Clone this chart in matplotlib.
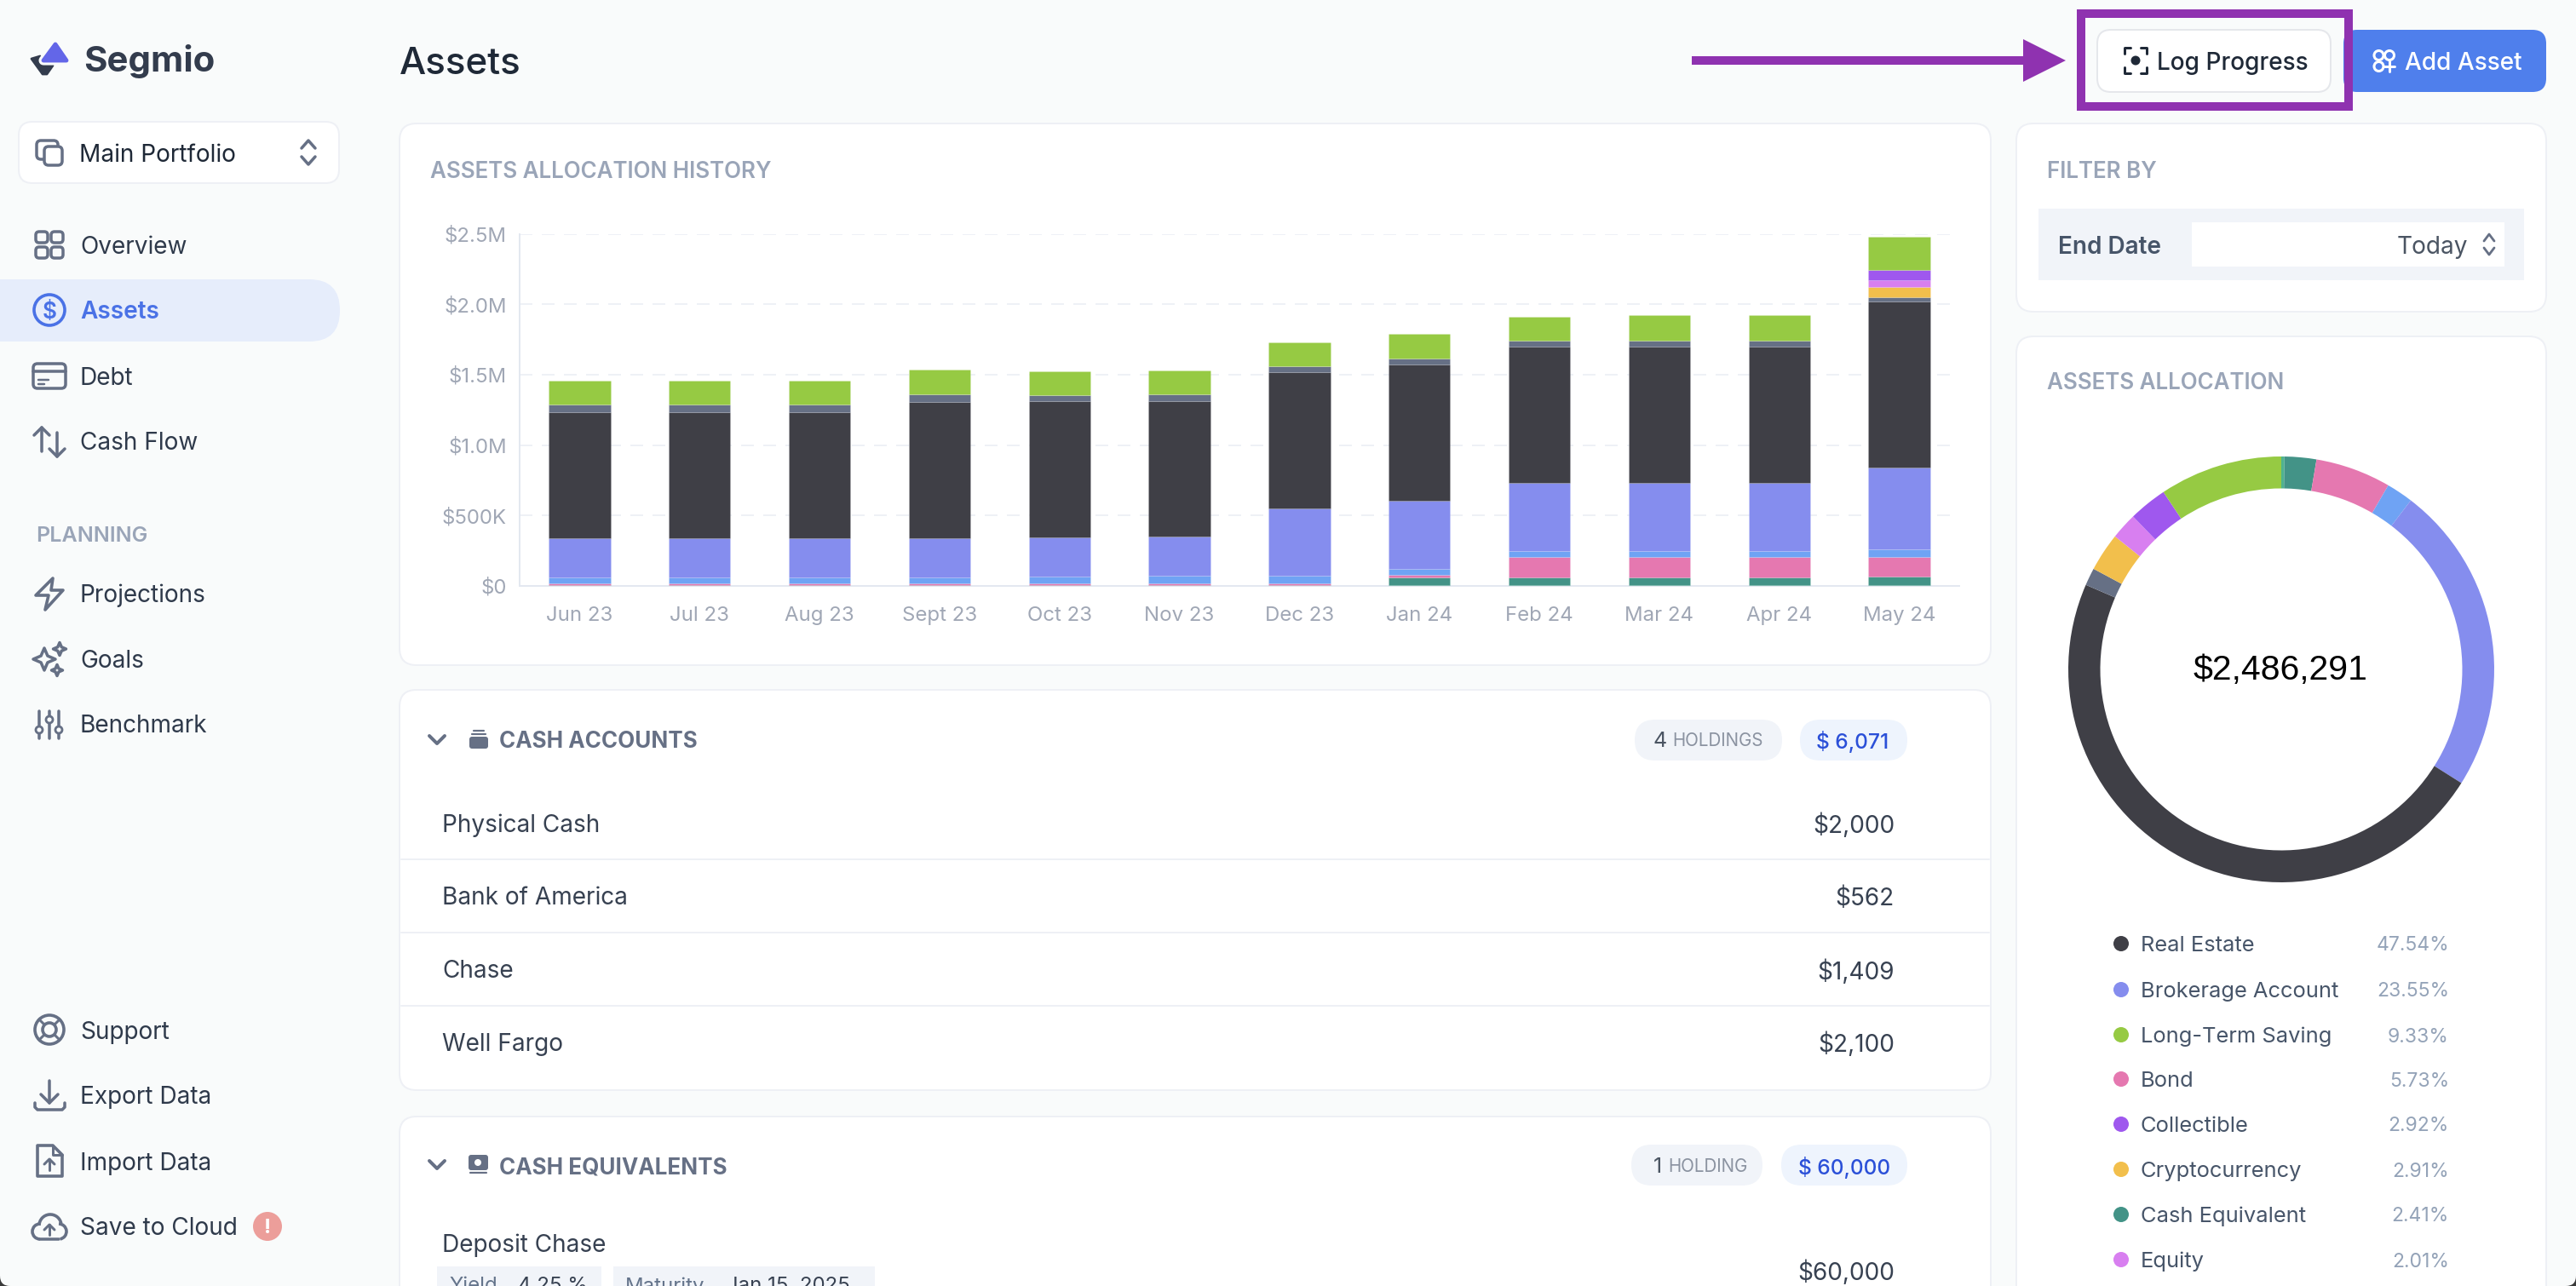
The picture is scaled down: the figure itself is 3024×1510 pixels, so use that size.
import numpy as np
import matplotlib
matplotlib.use("Agg")
import matplotlib.pyplot as plt
from matplotlib.patches import FancyBboxPatch, Rectangle, Circle, Polygon, Arc

plt.rcParams['font.family'] = ['Inter', 'Noto Sans', 'DejaVu Sans']

# ----- bar chart data ($K)
months = ['Jun 23', 'Jul 23', 'Aug 23', 'Sept 23', 'Oct 23', 'Nov 23', 'Dec 23', 'Jan 24', 'Feb 24', 'Mar 24', 'Apr 24', 'May 24']
cash = [6, 6, 6, 6, 6, 6, 6, 6, 6, 6, 6, 6]
cash_equiv = [0, 0, 0, 0, 0, 0, 0, 52, 54, 54, 54, 60]
bond = [12, 12, 12, 12, 12, 12, 12, 18, 143, 143, 143, 142]
fund = [40, 40, 40, 40, 46, 52, 52, 48, 48, 48, 48, 50]
brokerage = [282, 280, 282, 282, 280, 278, 478, 482, 480, 480, 480, 583]
real_estate = [895, 893, 893, 968, 970, 966, 968, 968, 970, 970, 970, 1179]
other = [54, 56, 54, 56, 40, 44, 42, 42, 40, 40, 40, 32]
crypto = [0, 0, 0, 0, 0, 0, 0, 0, 0, 0, 0, 72]
equity = [0, 0, 0, 0, 0, 0, 0, 0, 0, 0, 0, 50]
collectible = [0, 0, 0, 0, 0, 0, 0, 0, 0, 0, 0, 72]
long_term = [171, 171, 173, 171, 171, 171, 173, 173, 173, 183, 183, 232]
y_ticks = [0, 500, 1000, 1500, 2000, 2500]
y_labels = ['$0', '$500K', '$1.0M', '$1.5M', '$2.0M', '$2.5M']

# ----- donut data (%), clockwise from the top
donut_pct = [0.24, 2.41, 5.73, 2.03, 23.55, 47.54, 1.33, 2.91, 2.01, 2.92, 9.33]
total_label = '$2,486,291'

# ----- legend
legend_names = ['Real Estate', 'Brokerage Account', 'Long-Term Saving', 'Bond', 'Collectible', 'Cryptocurrency', 'Cash Equivalent', 'Equity']
legend_pct = ['47.54%', '23.55%', '9.33%', '5.73%', '2.92%', '2.91%', '2.41%', '2.01%']

# ----- tables
cash_names = ['Physical Cash', 'Bank of America', 'Chase', 'Well Fargo']
cash_values = ['$2,000', '$562', '$1,409', '$2,100']

# colours
C_DARK = '#3f3f46'
C_INDIGO = '#858dee'
C_FUND = '#6fa3f4'
C_BOND = '#e578b0'
C_TEAL = '#439387'
C_GREEN = '#96ca43'
C_SLATE = '#667085'
C_YELLOW = '#f2bf4c'
C_EQUITY = '#d87ff0'
C_PURPLE = '#9f58ee'
C_CASH = '#4fb38f'
BG = '#f9fbfb'
BORDER = '#eef0f5'
ICON = '#667085'
MARK = '#8f32b0'

W, H = 3024, 1510
fig = plt.figure(figsize=(W / 100, H / 100), dpi=100, facecolor=BG)
ui = fig.add_axes([0, 0, 1, 1])
ui.set_xlim(0, W)
ui.set_ylim(H, 0)
ui.axis('off')


def t(x, y, s, px=28, color='#374151', weight='normal', ha='left', family=None):
    kw = {}
    if family:
        kw['family'] = family
    ui.text(x, y, s, fontsize=px * 0.72, color=color, fontweight=weight, ha=ha, va='center_baseline', **kw)


def box(x0, y0, x1, y1, r=14, fc='white', ec=BORDER, lw=2, z=1):
    ui.add_patch(FancyBboxPatch((x0, y0), x1 - x0, y1 - y0, boxstyle='round,pad=0,rounding_size=%g' % r,
                                fc=fc, ec=ec, lw=lw * 0.72, zorder=z))


def line(xs, ys, color=ICON, lw=4, z=3):
    ui.plot(xs, ys, color=color, lw=lw * 0.72, solid_capstyle='round', solid_joinstyle='round', zorder=z)


def chevrons(x, y, dx=9, dy=7, gap=5, lw=3.5):
    line([x - dx, x, x + dx], [y - gap, y - gap - dy - 4, y - gap], lw=lw)
    line([x - dx, x, x + dx], [y + gap, y + gap + dy + 4, y + gap], lw=lw)


def star(cx, cy, r, lw=3.5):
    k = r * 0.3
    pts = [(cx, cy - r), (cx + k, cy - k), (cx + r, cy), (cx + k, cy + k), (cx, cy + r), (cx - k, cy + k), (cx - r, cy), (cx - k, cy - k)]
    ui.add_patch(Polygon(pts, fc='none', ec=ICON, lw=lw * 0.72, joinstyle='round', zorder=3))


# ----- sidebar
ui.add_patch(Polygon([(37, 69), (47, 66), (53, 74), (62, 77), (55, 87), (50, 87)], fc='#333c4d', ec='#333c4d', lw=2, joinstyle='round', zorder=2))
ui.add_patch(Polygon([(65, 52), (78, 71), (51, 71)], fc='#6366e8', ec=BG, lw=8, joinstyle='round', zorder=3))
ui.add_patch(Polygon([(65, 52), (78, 71), (51, 71)], fc='#6366e8', ec='#6366e8', lw=3.5, joinstyle='round', zorder=4))
t(98, 68, 'Segmio', 42, '#333c4d', 'bold')

box(22, 143, 398, 215, r=16)
box(43, 165, 68, 187, r=5, fc='none', ec=ICON, lw=3.5, z=2)
box(52, 172, 73, 194, r=5, fc='white', ec=ICON, lw=3.5, z=3)
t(93, 179, 'Main Portfolio', 28, '#1f2937')
chevrons(362, 179, dx=8, dy=5, gap=5)

ui.add_patch(FancyBboxPatch((-60, 328), 459, 73, boxstyle='round,pad=0,rounding_size=36', fc='#e6edfb', ec='none', zorder=1))

nav_names = ['Overview', 'Assets', 'Debt', 'Cash Flow', 'Projections', 'Goals', 'Benchmark', 'Support', 'Export Data', 'Import Data', 'Save to Cloud']
nav_y = [287, 364, 441, 518, 696, 773, 850, 1209, 1286, 1363, 1440]
for name, y in zip(nav_names, nav_y):
    if name == 'Assets':
        t(94, y, name, 28, '#4a72e6', 'semibold')
    else:
        t(94, y, name, 28, '#2f3a4b')
t(42, 627, 'PLANNING', 25, '#9aa5b8', 'semibold')

# icons
for ix, iy in [(42, 272), (60, 272), (42, 290), (60, 290)]:
    box(ix, iy, ix + 14, iy + 13, r=4, fc='none', ec=ICON, lw=3.5, z=3)
ui.add_patch(Circle((58, 364), 18, fc='none', ec='#4a72e6', lw=2.6, zorder=3))
t(58, 364, '$', 26, '#4a72e6', 'semibold', ha='center')
box(39, 427, 77, 456, r=5, fc='none', ec=ICON, lw=3.5, z=3)
line([39, 77], [436, 436], lw=3.5)
line([45, 57], [446, 446], lw=2.5)
line([45, 52], [451, 451], lw=2.5)
line([49, 49], [502, 530], lw=3.5)
line([40, 49, 58], [511, 502, 511], lw=3.5)
line([67, 67], [508, 536], lw=3.5)
line([58, 67, 76], [527, 536, 527], lw=3.5)
# projections
ui.add_patch(Polygon([(62, 679), (42, 699), (57, 699), (53, 716), (74, 693), (60, 693)], fc='none', ec=ICON, lw=2.6, joinstyle='round', zorder=3))
# goals
star(52, 774, 13)
star(70, 762, 7.5)
star(67, 787, 6.5)
# benchmark sliders
for sx, sy in [(46, 857), (58, 845), (69, 857)]:
    line([sx, sx], [835, 867], lw=3.5)
    ui.add_patch(Circle((sx, sy), 4, fc=BG, ec=ICON, lw=2, zorder=4))
# support
ui.add_patch(Circle((58, 1209), 17, fc='none', ec=ICON, lw=2.6, zorder=3))
ui.add_patch(Circle((58, 1209), 8, fc='none', ec=ICON, lw=2.6, zorder=3))
for sx, sy in [(-1, -1), (1, -1), (-1, 1), (1, 1)]:
    line([58 + sx * 6, 58 + sx * 12], [1209 + sy * 6, 1209 + sy * 12], lw=3)
# export
line([41, 41, 44, 73, 76, 76], [1295, 1300, 1303, 1303, 1300, 1295], lw=3.5)
line([58, 58], [1269, 1295], lw=3.5)
line([48, 58, 68], [1285, 1295, 1285], lw=3.5)
# import
ui.add_patch(Polygon([(44, 1345), (62, 1345), (73, 1356), (73, 1381), (44, 1381)], fc='none', ec=ICON, lw=2.6, joinstyle='round', zorder=3))
line([62, 62, 73], [1345, 1356, 1356], lw=3)
line([58, 58], [1374, 1361], lw=3)
line([52, 58, 64], [1367, 1361, 1367], lw=3)
# cloud
ui.add_patch(Arc((59, 1439), 26, 26, theta1=180, theta2=350, ec=ICON, lw=2.6, zorder=3))
ui.add_patch(Arc((47, 1446), 18, 18, theta1=90, theta2=270, ec=ICON, lw=2.6, zorder=3))
ui.add_patch(Arc((69, 1446), 18, 18, theta1=270, theta2=80, ec=ICON, lw=2.6, zorder=3))
line([47, 69], [1455, 1455], lw=3.5)
line([58, 58], [1450, 1438], lw=3)
line([52, 58, 64], [1444, 1438, 1444], lw=3)
ui.add_patch(Circle((314, 1440), 17, fc='#ec9e9a', ec='none', zorder=3))
t(314, 1440, '!', 24, 'white', 'bold', ha='center')

# ----- header
t(469, 71, 'Assets', 44, '#1f2937', 'medium')
box(2751, 35, 2989, 108, r=16, fc='#4f7fec', ec='none')
for ix, iy in [(2792.5, 65), (2805, 65), (2792.5, 78)]:
    ui.add_patch(Circle((ix, iy), 5.5, fc='none', ec='white', lw=2.2, zorder=3))
line([2805, 2805], [72, 84], 'white', 3)
line([2799, 2811], [78, 78], 'white', 3)
t(2823, 72, 'Add Asset', 28, 'white', 'medium')
box(2462, 35, 2736, 108, r=16, fc='white', ec='#e5e7eb', z=2)
ui.add_patch(Circle((2507, 71), 5.5, fc='#1f2937', ec='none', zorder=3))
for sx, sy in [(-1, -1), (1, -1), (-1, 1), (1, 1)]:
    line([2507 + sx * 6, 2507 + sx * 13, 2507 + sx * 13], [71 + sy * 15, 71 + sy * 15, 71 + sy * 8], '#1f2937', 3)
t(2532, 72, 'Log Progress', 28, '#1f2937', 'medium')
ui.add_patch(Rectangle((2443, 16), 314, 109, fc='none', ec=MARK, lw=10 * 0.72, joinstyle='miter', zorder=5))
ui.add_patch(Rectangle((1986, 66), 392, 10, fc=MARK, ec='none', zorder=5))
ui.add_patch(Polygon([(2375, 46), (2425, 71), (2375, 96)], fc=MARK, ec='none', zorder=5))

# ----- cards
box(469, 145, 2337, 781, r=20)
box(469, 810, 2337, 1280, r=20)
box(469, 1311, 2337, 1600, r=20)
box(2367, 145, 2989, 366, r=20)
box(2367, 395, 2989, 1600, r=20)

t(505, 199, 'ASSETS ALLOCATION HISTORY', 26, '#9aa5b8', 'semibold')
t(2403, 199, 'FILTER BY', 26, '#9aa5b8', 'semibold')
t(2403, 447, 'ASSETS ALLOCATION', 26, '#9aa5b8', 'semibold')

# filter
ui.add_patch(Rectangle((2393, 245), 570, 84, fc='#f1f4f9', ec='none', zorder=2))
ui.add_patch(Rectangle((2573, 261), 367, 52, fc='white', ec='none', zorder=3))
t(2416, 287, 'End Date', 28, '#475569', 'semibold')
t(2897, 287, 'Today', 28, '#4b5563', ha='right')
chevrons(2922, 287, dx=6, dy=4, gap=4, lw=2.8)

# cash accounts
line([504, 513, 522], [864, 873, 864], lw=4)
box(551, 865, 573, 879, r=3, fc=ICON, ec='none', z=3)
line([554, 570], [862, 862], lw=2.2)
line([556, 568], [858, 858], lw=2.2)
t(586, 868, 'CASH ACCOUNTS', 26, ICON, 'bold')
box(1919, 845, 2092, 893, r=24, fc='#f1f4f9', ec='none', z=2)
t(1941, 868, '4', 25, '#4b5563')
t(1963, 868, 'HOLDINGS', 20.6, '#8b93a1')
box(2113, 845, 2239, 893, r=24, fc='#eef4fd', ec='none', z=2)
t(2175, 868, '$ 6,071', 24.5, '#2b50d8', 'medium', ha='center')

row_y = [966, 1052, 1138, 1223]
for name, value, y in zip(cash_names, cash_values, row_y):
    t(519, y, name, 28, '#374151')
    t(2224, y, value, 28, '#374151', ha='right')
for y in [1009, 1095, 1181]:
    line([471, 2335], [y, y], BORDER, 2, z=2)

# cash equivalents
line([504, 513, 522], [1363, 1372, 1363], lw=4)
box(550, 1356, 573, 1374, r=3, fc=ICON, ec='none', z=3)
ui.add_patch(Circle((561, 1365), 4, fc='white', ec='none', zorder=4))
line([552, 571], [1377, 1377], lw=2.2)
t(586, 1368, 'CASH EQUIVALENTS', 26, ICON, 'bold')
box(1915, 1344, 2069, 1392, r=24, fc='#f1f4f9', ec='none', z=2)
t(1941, 1368, '1', 25, '#4b5563')
t(1958, 1368, 'HOLDING', 20.6, '#8b93a1')
box(2091, 1344, 2239, 1392, r=24, fc='#eef4fd', ec='none', z=2)
t(2165, 1368, '$ 60,000', 24.5, '#2b50d8', 'medium', ha='center')
t(519, 1459, 'Deposit Chase', 28, '#374151')
t(2224, 1491, '$60,000', 28, '#374151', ha='right')
ui.add_patch(Rectangle((513, 1487), 193, 40, fc='#f1f4f9', ec='none', zorder=2))
ui.add_patch(Rectangle((720, 1487), 307, 40, fc='#f1f4f9', ec='none', zorder=2))
t(527, 1508, 'Yield', 24, '#64748b')
t(608, 1508, '4.25 %', 24, '#374151')
t(734, 1508, 'Maturity', 24, '#64748b')
t(853, 1508, 'Jan 15, 2025', 24, '#374151')

# window corners of the screenshot
ui.add_patch(Rectangle((0, 1498), 12, 12, fc='#3a3a3a', ec='none', zorder=0.5))
ui.add_patch(Rectangle((3012, 1498), 12, 12, fc='#3a3a3a', ec='none', zorder=0.5))
ui.add_patch(FancyBboxPatch((0, 1400), 3024, 110, boxstyle='round,pad=0,rounding_size=12', fc=BG, ec='none', zorder=0.6))

# ----- stacked bars
ax = fig.add_axes([610 / W, 1 - 688 / H, (2300 - 610) / W, (688 - 274.7) / H], facecolor='none')
x = np.arange(len(months))
layers = [(cash, C_CASH), (cash_equiv, C_TEAL), (bond, C_BOND), (fund, C_FUND), (brokerage, C_INDIGO),
          (real_estate, C_DARK), (other, C_SLATE), (crypto, C_YELLOW), (equity, C_EQUITY), (collectible, C_PURPLE), (long_term, C_GREEN)]
bottom = np.zeros(len(months))
for vals, col in layers:
    vals = np.array(vals, dtype=float)
    ax.bar(x, vals, 0.513, bottom=bottom, color=col, edgecolor=(1, 1, 1, 0.2), linewidth=0.4, zorder=3)
    bottom += vals
ax.set_xlim(-0.5, 11.5)
ax.set_ylim(0, 2500)
ax.set_yticks(y_ticks)
ax.set_yticklabels(y_labels)
ax.set_xticks(x)
ax.set_xticklabels(months)
ax.tick_params(axis='y', length=0, pad=11, labelsize=24 * 0.72, labelcolor='#a0a7b5')
ax.tick_params(axis='x', length=0, pad=17, labelsize=24 * 0.72, labelcolor='#a0a7b5')
ax.grid(axis='y', color='#eef1f6', lw=2 * 0.72, dashes=(7.5, 5.5), zorder=0)
ax.set_axisbelow(True)
for s in ['top', 'right']:
    ax.spines[s].set_visible(False)
for s in ['left', 'bottom']:
    ax.spines[s].set_color('#e3e8f0')
    ax.spines[s].set_linewidth(2 * 0.72)

# ----- donut
cx, cy, r = 2678, 786, 250
ax2 = fig.add_axes([(cx - r) / W, 1 - (cy + r) / H, 2 * r / W, 2 * r / H], facecolor='none')
donut_colors = [C_CASH, C_TEAL, C_BOND, C_FUND, C_INDIGO, C_DARK, C_SLATE, C_YELLOW, C_EQUITY, C_PURPLE, C_GREEN]
ax2.pie(donut_pct, colors=donut_colors, startangle=90, counterclock=False, radius=1,
        wedgeprops=dict(width=0.15, edgecolor='none'))
ax2.set_xlim(-1, 1)
ax2.set_ylim(-1, 1)
ax2.text(-0.005, 0.012, total_label, ha='center', va='center_baseline', fontsize=41 * 0.72, color='black', family='Liberation Sans')

# ----- legend
legend_colors = [C_DARK, C_INDIGO, C_GREEN, C_BOND, C_PURPLE, C_YELLOW, C_TEAL, C_EQUITY]
legend_y = [1108, 1162, 1215, 1267, 1320, 1373, 1426, 1479]
for name, pct, col, y in zip(legend_names, legend_pct, legend_colors, legend_y):
    ui.add_patch(Circle((2490, y), 9, fc=col, ec='none', zorder=3))
    t(2513, y, name, 25.5, '#475569')
    t(2875, y, pct, 23, '#94a3b8', ha='right')

fig.savefig('out.png', dpi=100, facecolor=BG)
